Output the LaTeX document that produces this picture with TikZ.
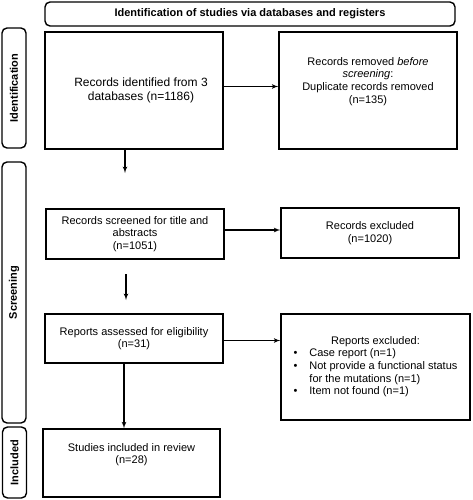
\documentclass[tikz,border=0pt]{standalone}
\usepackage{fontspec}
\setmainfont{Liberation Sans}
\usetikzlibrary{positioning,arrows}

\begin{document}
\begin{tikzpicture}[>=latex',x=1pt,y=-1pt,
  box/.style={draw,line width=1.4pt,align=center,inner sep=2pt,font=\fontsize{11}{12.6}\selectfont},
  phase/.style={draw,line width=1.4pt,rounded corners=5pt,rotate=90,minimum height=24pt,font=\fontsize{11}{12}\selectfont\bfseries}]

    \useasboundingbox (0,0) rectangle (472,500);

    % The header and phases
	\node [box,rounded corners=5pt,minimum width=410pt,minimum height=24pt,font=\fontsize{11}{12}\selectfont\bfseries] at (250,14) (head) {Identification of studies via databases and registers};
	\node [phase,minimum width=120pt] at (14,88) (idlab) {Identification};
	\node [phase,minimum width=261pt] at (14,292.5) (scrlab) {Screening};
	\node [phase,minimum width=71pt] at (14.5,462.5) (inclab) {Included};

    % The boxes
	\node [box,minimum width=178pt,minimum height=117pt,font=\fontsize{12}{14.6}\selectfont] at (134,90.5) (ident) {\hspace*{14pt}Records identified from 3\\\hspace*{14pt}databases (n=1186)};
	\node [box,minimum width=178pt,minimum height=117pt] at (368,90.5) (dupl) {Records removed \textit{before}\\\textit{screening}:\\Duplicate records removed\\(n=135)\\[8pt]};

	\node [box,minimum width=178pt,minimum height=50pt] at (135,234) (screen) {Records screened for title and\\abstracts\\(n=1051)};
	\node [box,minimum width=178pt,minimum height=50pt] at (370,233) (excl) {Records excluded\\(n=1020)};

	\node [box,minimum width=178pt,minimum height=49pt] at (134,338.5) (assess) {Reports assessed for eligibility\\(n=31)};
	\node [box,minimum width=189pt,minimum height=106pt] at (375.5,367) (rexcl) {\begin{tabular}{@{}c@{\hspace{12pt}}l@{}}
	\multicolumn{2}{c}{Reports excluded:}\\
	\textbullet & Case report (n=1)\\
	\textbullet & Not provide a functional status\\
	 & for the mutations (n=1)\\
	\textbullet & Item not found (n=1)
	\end{tabular}};

	\node [box,minimum width=177pt,minimum height=68pt] at (131.5,463) (incl) {Studies included in review\\(n=28)\\[6pt]};

	\coordinate (a1) at (125,173);
	\coordinate (a2s) at (126,274);
	\coordinate (a2) at (126,300);

	% Graph edges
	\path[->,line width=1.2pt]
	([yshift=4pt]ident.east) edge ([yshift=4pt]ident.east -| dupl.west)
	(ident.south -| a1) edge (a1)
	([yshift=4pt]screen.east) edge ([yshift=4pt]screen.east -| excl.west)
	(a2s) edge (a2)
	([yshift=-2pt]assess.east) edge ([yshift=-2pt]assess.east -| rexcl.west)
	([xshift=-10pt]assess.south) edge ([xshift=-10pt]assess.south |- incl.north);

\end{tikzpicture}
\end{document}
